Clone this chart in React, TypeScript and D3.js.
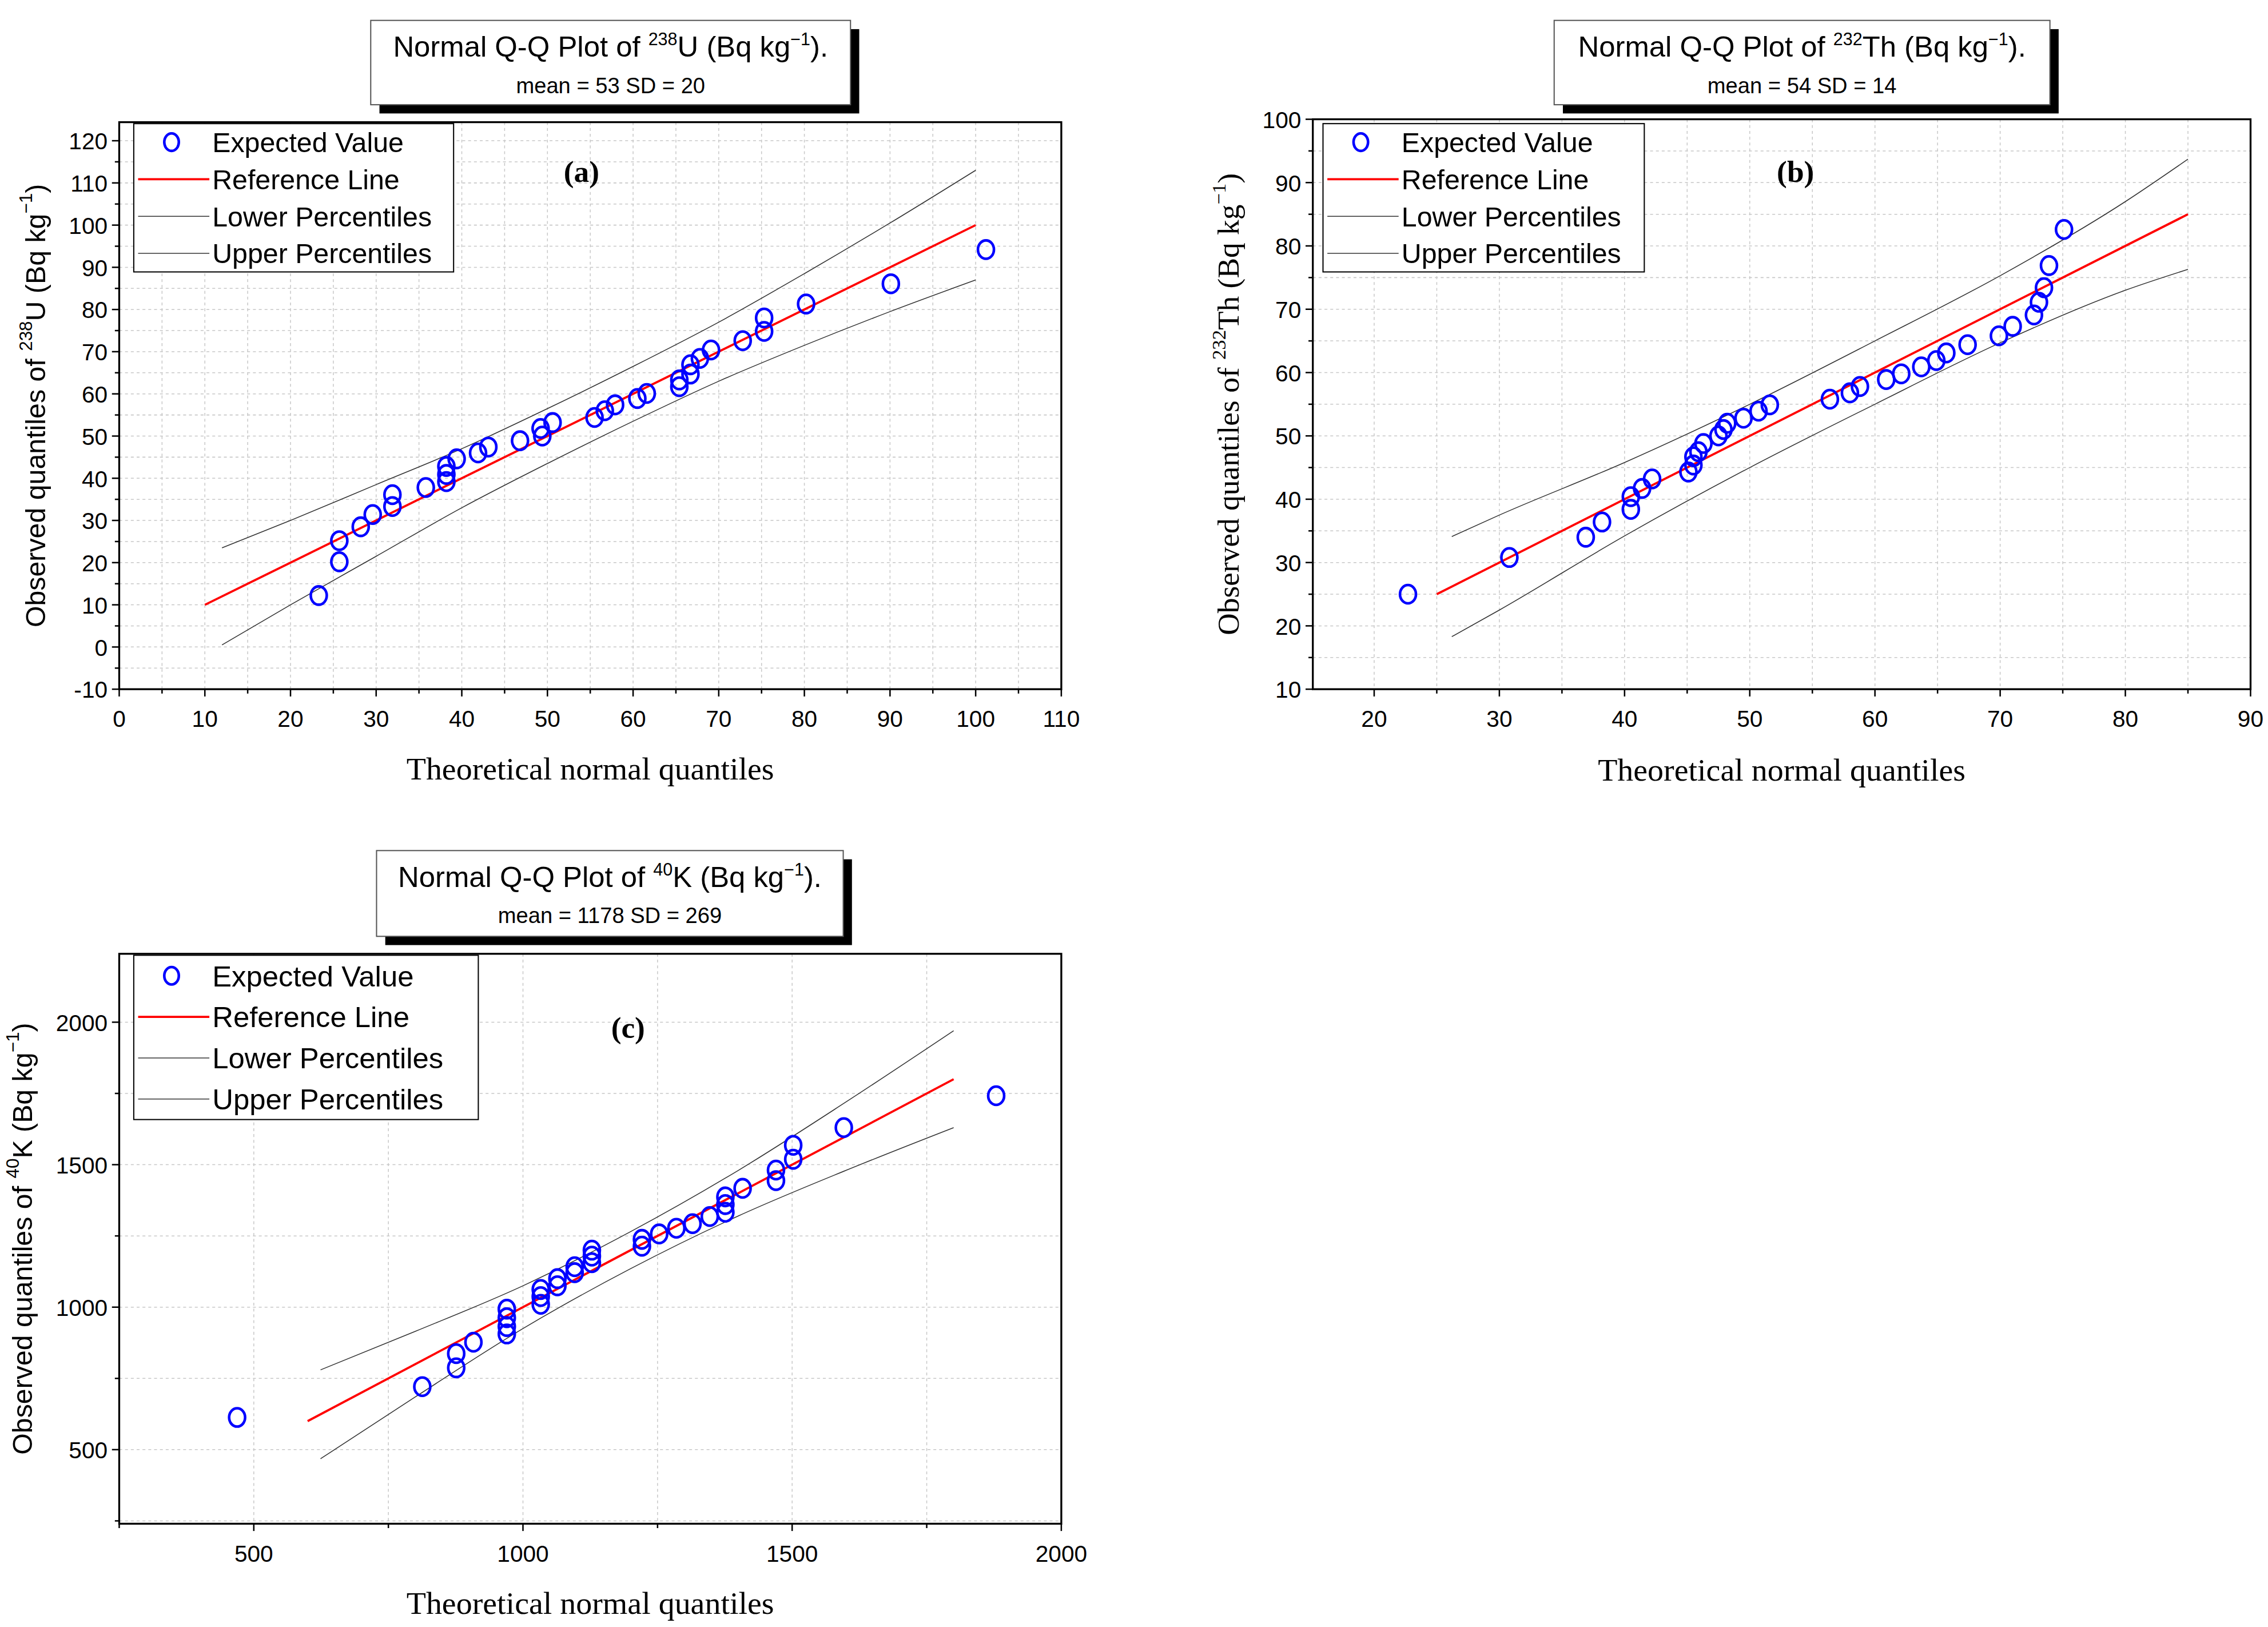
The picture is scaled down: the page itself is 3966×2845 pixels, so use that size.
import * as d3 from 'd3';

// ---- data ----
const uPoints: [number, number][] = [
  [23.3, 12.2], [25.7, 20.2], [25.7, 25.2], [28.2, 28.5], [29.6, 31.4], [31.9, 33.3], [31.9, 36.1],
  [35.8, 37.8], [38.2, 39.2], [38.2, 40.9], [38.2, 42.8], [39.4, 44.6], [41.9, 46.0], [43.1, 47.4],
  [46.8, 48.9], [49.4, 50.0], [49.2, 51.8], [50.6, 53.2], [55.5, 54.4], [56.7, 56.0], [57.9, 57.4],
  [60.5, 58.9], [61.6, 60.1], [65.4, 61.7], [65.4, 63.3], [66.7, 64.7], [66.7, 66.9], [67.8, 68.4],
  [69.1, 70.4], [72.8, 72.6], [75.3, 74.8], [75.3, 78.0], [80.2, 81.3], [90.1, 86.1], [101.2, 94.2],
];
const uRef: [number, number][] = [[10, 10], [100, 100]];
const uUpper: [number, number][] = [[12, 23.5], [20, 30], [30, 38.5], [40, 47], [50, 56.5], [60, 66.5], [70, 77], [80, 88.5], [90, 100.5], [100, 113]];
const uLower: [number, number][] = [[12, 0.5], [20, 10], [30, 21.5], [40, 33], [50, 43.5], [60, 53.5], [70, 63], [80, 71.5], [90, 79.5], [100, 87]];

const thPoints: [number, number][] = [
  [22.7, 25.0], [30.8, 30.8], [36.9, 34.0], [38.2, 36.4], [40.5, 38.4], [40.5, 40.4], [41.4, 41.7],
  [42.2, 43.2], [45.1, 44.3], [45.5, 45.4], [45.5, 46.7], [45.9, 47.5], [46.3, 48.8], [47.5, 50.0],
  [47.9, 51.0], [48.2, 52.0], [49.5, 52.8], [50.7, 53.9], [51.6, 54.9], [56.4, 55.8], [58.0, 56.8],
  [58.8, 57.8], [60.9, 58.9], [62.1, 59.8], [63.7, 60.9], [64.9, 61.9], [65.7, 63.1], [67.4, 64.4],
  [69.9, 65.8], [71.0, 67.3], [72.7, 69.1], [73.1, 71.1], [73.5, 73.4], [73.9, 76.9], [75.1, 82.6],
];
const thRef: [number, number][] = [[25, 25], [85, 85]];
const thUpper: [number, number][] = [[26.2, 34.1], [30, 37.5], [40, 45.8], [50, 55], [60, 65], [70, 75.3], [80, 87], [85, 93.7]];
const thLower: [number, number][] = [[26.2, 18.3], [30, 22.5], [40, 34.2], [50, 45], [60, 55], [70, 64.7], [80, 73], [85, 76.3]];

const kPoints: [number, number][] = [
  [469, 613], [813, 721], [876, 787], [876, 837], [908, 877], [970, 906], [970, 932], [970, 963],
  [970, 993], [1033, 1010], [1033, 1037], [1033, 1062], [1064, 1075], [1064, 1100], [1096, 1121],
  [1096, 1142], [1128, 1156], [1128, 1179], [1128, 1200], [1221, 1214], [1221, 1238], [1253, 1257],
  [1285, 1277], [1315, 1293], [1347, 1318], [1376, 1333], [1376, 1360], [1376, 1387], [1408, 1417],
  [1470, 1444], [1470, 1481], [1502, 1519], [1502, 1568], [1596, 1630], [1879, 1742],
];
const kRef: [number, number][] = [[600, 600], [1800, 1800]];
const kUpper: [number, number][] = [[624, 780], [800, 915], [1000, 1075], [1200, 1265], [1400, 1480], [1600, 1720], [1800, 1970]];
const kLower: [number, number][] = [[624, 468], [800, 685], [1000, 925], [1200, 1135], [1400, 1320], [1600, 1480], [1800, 1630]];

const legendLabels = ['Expected Value', 'Reference Line', 'Lower Percentiles', 'Upper Percentiles'];

const NARROW = '"Liberation Sans Narrow", "Arial Narrow", "Liberation Sans", Arial, sans-serif';
const SANS = '"Liberation Sans", Arial, sans-serif';
const SERIF = '"Liberation Serif", "Times New Roman", serif';

interface PanelProps {
  frame: { x0: number; x1: number; y0: number; y1: number };
  xDomain: [number, number];
  yDomain: [number, number];
  xMajor: number[];
  xMinor: number[];
  yMajor: number[];
  yMinor: number[];
  points: [number, number][];
  ref: [number, number][];
  upper: [number, number][];
  lower: [number, number][];
  title: { x0: number; x1: number; y0: number; y1: number; iso: string; el: string; stats: string };
  legend: { x0: number; x1: number; y0: number; y1: number; fs: number };
  tag: { x: number; y: number; text: string };
  yLabel: { x: number; serif: boolean; iso: string; el: string };
  xLabelY: number;
}

const Panel = (p: PanelProps) => {
  const { frame } = p;
  const x = d3.scaleLinear().domain(p.xDomain).range([frame.x0, frame.x1]);
  const y = d3.scaleLinear().domain(p.yDomain).range([frame.y1, frame.y0]);
  const line = d3.line<[number, number]>().x(d => x(d[0])).y(d => y(d[1])).curve(d3.curveMonotoneX);
  const t = p.title;
  const lg = p.legend;
  const rowH = (lg.y1 - lg.y0) / 4;
  const yMid = (frame.y0 + frame.y1) / 2;
  const yfs = p.yLabel.serif ? 21 : 19;
  return (
    <g>
      {/* grid */}
      {p.xMinor.map(v => (
        <line key={'gx' + v} x1={x(v)} x2={x(v)} y1={frame.y0} y2={frame.y1} stroke="#c8c8c8" strokeWidth={0.6} strokeDasharray="2,2" />
      ))}
      {p.yMinor.map(v => (
        <line key={'gy' + v} y1={y(v)} y2={y(v)} x1={frame.x0} x2={frame.x1} stroke="#c8c8c8" strokeWidth={0.6} strokeDasharray="2,2" />
      ))}
      {/* frame */}
      <rect x={frame.x0} y={frame.y0} width={frame.x1 - frame.x0} height={frame.y1 - frame.y0} fill="none" stroke="#000" strokeWidth={1.3} />
      {/* ticks */}
      {p.xMinor.map(v => (
        <line key={'tx' + v} x1={x(v)} x2={x(v)} y1={frame.y1} y2={frame.y1 + (p.xMajor.includes(v) ? 5 : 3)} stroke="#000" strokeWidth={1} />
      ))}
      {p.yMinor.map(v => (
        <line key={'ty' + v} y1={y(v)} y2={y(v)} x1={frame.x0} x2={frame.x0 - (p.yMajor.includes(v) ? 5 : 3)} stroke="#000" strokeWidth={1} />
      ))}
      {p.xMajor.map(v => (
        <text key={'lx' + v} x={x(v)} y={frame.y1 + 26} textAnchor="middle" fontFamily={NARROW} fontSize={16}>{v}</text>
      ))}
      {p.yMajor.map(v => (
        <text key={'ly' + v} x={frame.x0 - 8} y={y(v) + 6} textAnchor="end" fontFamily={NARROW} fontSize={16}>{v}</text>
      ))}
      {/* percentile curves and reference */}
      <path d={line(p.upper) || ''} fill="none" stroke="#333" strokeWidth={0.6} />
      <path d={line(p.lower) || ''} fill="none" stroke="#333" strokeWidth={0.6} />
      <path d={line(p.ref) || ''} fill="none" stroke="#ff0000" strokeWidth={1.5} />
      {p.points.map((d, i) => (
        <ellipse key={i} cx={x(d[0])} cy={y(d[1])} rx={5.5} ry={6.3} fill="none" stroke="#0000ff" strokeWidth={1.8} />
      ))}
      {/* legend */}
      <rect x={lg.x0} y={lg.y0} width={lg.x1 - lg.x0} height={lg.y1 - lg.y0} fill="#fff" stroke="#000" strokeWidth={0.8} />
      {legendLabels.map((s, i) => {
        const cy = lg.y0 + rowH * (i + 0.5);
        return (
          <g key={s}>
            {i === 0 && <ellipse cx={lg.x0 + 26} cy={cy} rx={5} ry={6} fill="none" stroke="#0000ff" strokeWidth={1.8} />}
            {i === 1 && <line x1={lg.x0 + 3} x2={lg.x0 + 52} y1={cy} y2={cy} stroke="#ff0000" strokeWidth={1.5} />}
            {i > 1 && <line x1={lg.x0 + 3} x2={lg.x0 + 52} y1={cy} y2={cy} stroke="#333" strokeWidth={0.6} />}
            <text x={lg.x0 + 54} y={cy + lg.fs * 0.36} fontFamily={SANS} fontSize={lg.fs}>{s}</text>
          </g>
        );
      })}
      <text x={p.tag.x} y={p.tag.y} textAnchor="middle" fontFamily={SERIF} fontWeight="bold" fontSize={21}>{p.tag.text}</text>
      {/* title box */}
      <rect x={t.x0 + 6} y={t.y0 + 6} width={t.x1 - t.x0} height={t.y1 - t.y0} fill="#000" />
      <rect x={t.x0} y={t.y0} width={t.x1 - t.x0} height={t.y1 - t.y0} fill="#fff" stroke="#555" strokeWidth={0.8} />
      <text x={(t.x0 + t.x1) / 2} y={t.y0 + 25} textAnchor="middle" fontFamily={NARROW} fontSize={20}>
        Normal Q-Q Plot of <tspan fontSize={12} dy={-8}>{t.iso}</tspan><tspan dy={8}>{t.el} (Bq kg</tspan>
        <tspan fontSize={12} dy={-8}>−1</tspan><tspan dy={8}>).</tspan>
      </text>
      <text x={(t.x0 + t.x1) / 2} y={t.y0 + 50} textAnchor="middle" fontFamily={NARROW} fontSize={15}>{t.stats}</text>
      {/* axis titles */}
      <text transform={`translate(${p.yLabel.x},${yMid}) rotate(-90)`} textAnchor="middle" fontFamily={p.yLabel.serif ? SERIF : SANS} fontSize={yfs}>
        Observed quantiles of  <tspan fontSize={yfs * 0.65} dy={-9}>{p.yLabel.iso}</tspan>
        <tspan dy={9}>{p.yLabel.el} (Bq kg</tspan><tspan fontSize={yfs * 0.65} dy={-9}>−1</tspan><tspan dy={9}>)</tspan>
      </text>
      <text x={(frame.x0 + frame.x1) / 2} y={p.xLabelY} textAnchor="middle" fontFamily={SERIF} fontSize={22}>Theoretical normal quantiles</text>
    </g>
  );
};

export default function App() {
  return (
    <svg width={3966} height={2845} viewBox="0 0 1560 1119" style={{ position: 'absolute', left: 0, top: 0, background: '#fff' }}>
      <rect width={1560} height={1119} fill="#fff" />
      <Panel
        frame={{ x0: 82, x1: 730, y0: 84, y1: 474 }}
        xDomain={[0, 110]} yDomain={[-10, 124.4]}
        xMajor={d3.range(0, 111, 10)} xMinor={d3.range(0, 111, 5)}
        yMajor={d3.range(-10, 121, 10)} yMinor={d3.range(-10, 121, 5)}
        points={uPoints} ref={uRef} upper={uUpper} lower={uLower}
        title={{ x0: 255, x1: 585, y0: 14, y1: 72, iso: '238', el: 'U', stats: 'mean = 53  SD = 20' }}
        legend={{ x0: 92, x1: 312, y0: 85, y1: 187, fs: 19 }}
        tag={{ x: 400, y: 125, text: '(a)' }}
        yLabel={{ x: 31, serif: false, iso: '238', el: 'U' }}
        xLabelY={536}
      />
      <Panel
        frame={{ x0: 903, x1: 1548, y0: 82, y1: 474 }}
        xDomain={[15.1, 90]} yDomain={[10, 100]}
        xMajor={d3.range(20, 91, 10)} xMinor={d3.range(20, 91, 5)}
        yMajor={d3.range(10, 101, 10)} yMinor={d3.range(10, 101, 5)}
        points={thPoints} ref={thRef} upper={thUpper} lower={thLower}
        title={{ x0: 1069, x1: 1410, y0: 14, y1: 72, iso: '232', el: 'Th', stats: 'mean = 54  SD = 14' }}
        legend={{ x0: 910, x1: 1131, y0: 85, y1: 187, fs: 19 }}
        tag={{ x: 1235, y: 125, text: '(b)' }}
        yLabel={{ x: 852, serif: true, iso: '232', el: 'Th' }}
        xLabelY={537}
      />
      <Panel
        frame={{ x0: 82, x1: 730, y0: 656, y1: 1048 }}
        xDomain={[250, 2000]} yDomain={[240, 2240]}
        xMajor={d3.range(500, 2001, 500)} xMinor={d3.range(250, 2001, 250)}
        yMajor={d3.range(500, 2001, 500)} yMinor={d3.range(250, 2001, 250)}
        points={kPoints} ref={kRef} upper={kUpper} lower={kLower}
        title={{ x0: 259, x1: 580, y0: 585, y1: 644, iso: '40', el: 'K', stats: 'mean = 1178  SD = 269' }}
        legend={{ x0: 92, x1: 329, y0: 657, y1: 770, fs: 20 }}
        tag={{ x: 432, y: 714, text: '(c)' }}
        yLabel={{ x: 22, serif: false, iso: '40', el: 'K' }}
        xLabelY={1110}
      />
    </svg>
  );
}
